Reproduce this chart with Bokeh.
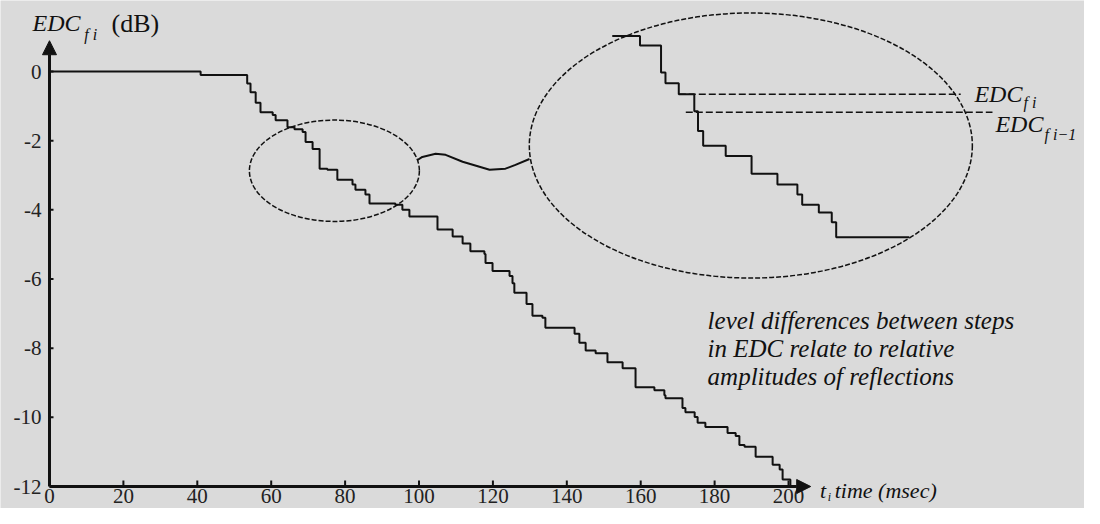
from bokeh.plotting import figure
from bokeh.models import Label, Arrow, NormalHead, Range1d
from bokeh.core.properties import value
from bokeh.embed import file_html
from bokeh.resources import INLINE

# ---- data ----
edc_time_ms = [0, 40.9, 53.5, 54.4, 55.8, 57.1, 60.4, 61.2, 64.4, 66.3, 68.5, 69.3, 71.2,
               73.1, 75.2, 77.9, 82.0, 82.8, 85.5, 86.6, 93.6, 95.5, 97.4, 105.0, 109.1,
               111.8, 113.9, 117.7, 118.0, 119.9, 124.5, 125.3, 125.8, 129.1, 130.7, 133.4,
               134.2, 142.1, 143.4, 145.1, 147.8, 151.0, 155.1, 158.6, 163.7, 166.4, 166.7,
               171.3, 172.1, 174.6, 175.4, 177.5, 183.5, 185.7, 186.7, 188.1, 191.1, 195.7,
               197.6, 198.4, 200.5]
edc_level_db = [0, -0.10, -0.35, -0.60, -0.90, -1.18, -1.26, -1.41, -1.61, -1.67, -1.75, -2.04,
                -2.24, -2.81, -2.84, -3.13, -3.27, -3.42, -3.56, -3.82, -3.85, -4.00, -4.19,
                -4.57, -4.77, -4.97, -5.20, -5.28, -5.54, -5.77, -5.91, -6.12, -6.40, -6.72,
                -7.06, -7.12, -7.41, -7.58, -7.84, -8.07, -8.15, -8.41, -8.58, -9.13, -9.22,
                -9.36, -9.45, -9.73, -9.85, -9.99, -10.16, -10.28, -10.45, -10.54, -10.80,
                -10.85, -11.14, -11.37, -11.51, -11.80, -12.0]

# magnified detail of the curve (drawn inside the large ellipse)
detail_time = [152.3, 159.8, 165.5, 166.7, 170.3, 174.5, 175.5, 176.9, 183.0, 190.0, 197.0,
               202.4, 203.7, 208.2, 211.7, 212.9, 232.7]
detail_level = [1.03, 0.75, -0.03, -0.34, -0.66, -1.15, -1.72, -2.15, -2.44, -2.96, -3.27,
                -3.56, -3.85, -4.08, -4.36, -4.79, -4.79]

# connector between the two ellipses
link_time = [99.6, 100.9, 104.5, 107.2, 111.8, 119.1, 123.4, 126.1, 129.9]
link_level = [-2.56, -2.47, -2.38, -2.41, -2.61, -2.84, -2.81, -2.70, -2.53]

# reference levels EDC_fi and EDC_fi-1 (level, start time, end time)
ref_level_fi = [-0.66, 170.3, 246.6]
ref_level_fi1 = [-1.18, 172.2, 255.2]

x_ticks = [0, 20, 40, 60, 80, 100, 120, 140, 160, 180, 200]
x_tick_labels = ["0", "20", "40", "60", "80", "100", "120", "140", "160", "180", "200"]
y_ticks = [-12, -10, -8, -6, -4, -2, 0]
y_tick_labels = ["-12", "-10", "-8", "-6", "-4", "-2", "0"]

BG = "#dadada"
INK = "#111111"
FONT = "'Liberation Serif', 'Times New Roman', serif"

p = figure(width=1084, height=508, output_backend="svg", toolbar_location=None,
           x_range=Range1d(-13.26, 280.1), y_range=Range1d(-12.636, 2.053),
           min_border_left=0, min_border_right=0, min_border_top=0, min_border_bottom=0,
           background_fill_color=BG, border_fill_color=BG, outline_line_color=None)
p.grid.visible = False
p.axis.visible = False

# axes with arrow heads
p.add_layout(Arrow(x_start=0, y_start=-12, x_end=206, y_end=-12, line_width=3, line_color=INK,
                   end=NormalHead(size=14, fill_color=INK, line_color=INK)))
p.add_layout(Arrow(x_start=0, y_start=-12, x_end=0, y_end=0.89, line_width=3, line_color=INK,
                   end=NormalHead(size=14, fill_color=INK, line_color=INK)))

# ticks (pointing into the plot) and tick labels
p.ray(x=x_ticks[1:], y=[-12] * (len(x_ticks) - 1), length=6, length_units="screen",
      angle=90, angle_units="deg", line_width=2, line_color=INK)
p.ray(x=[0] * len(y_ticks), y=y_ticks, length=4, length_units="screen",
      angle=0, angle_units="deg", line_width=2, line_color=INK)
p.text(x=x_ticks, y=[-12] * len(x_ticks), text=x_tick_labels, text_align="center",
       text_baseline="top", y_offset=2, text_font=value(FONT), text_font_size="21px",
       text_color="#222222")
p.text(x=[0] * len(y_ticks), y=y_ticks, text=y_tick_labels, text_align="right",
       text_baseline="middle", x_offset=-8, text_font=value(FONT), text_font_size="21px",
       text_color="#222222")

# main EDC curve
p.step(edc_time_ms, edc_level_db, mode="after", line_width=2, line_color=INK)

# ellipses and connector
p.ellipse(x=[77.1], y=[-2.87], width=[46.0], height=[2.93], fill_color=None,
          line_color=INK, line_width=1.5, line_dash="5 2")
p.ellipse(x=[189.8], y=[-2.14], width=[119.9], height=[7.67], fill_color=None,
          line_color=INK, line_width=1.5, line_dash="5 2")
p.line(link_time, link_level, line_width=2, line_color=INK)

# magnified steps
p.step(detail_time, detail_level, mode="after", line_width=2, line_color=INK)

# dashed reference levels
p.line(ref_level_fi[1:], [ref_level_fi[0]] * 2, line_dash="7 3", line_width=1.5, line_color=INK)
p.line(ref_level_fi1[1:], [ref_level_fi1[0]] * 2, line_dash="7 3", line_width=1.5, line_color=INK)


def lab(x, y, text, size, style="italic"):
    p.add_layout(Label(x=x, y=y, text=text, text_font=FONT, text_font_style=style,
                       text_font_size=size, text_color=INK, text_baseline="alphabetic"))


# y-axis title
lab(-4.6, 1.40, "EDC", "24px")
lab(9.4, 1.06, "f i", "16px")
lab(16.8, 1.40, "(dB)", "26px", "normal")

# EDC level labels
lab(250.3, -0.66, "EDC", "24px")
lab(263.6, -0.91, "f i", "16px")
lab(256.0, -1.52, "EDC", "24px")
lab(269.3, -1.81, "f i\u22121", "16px")

# explanatory note
lab(178.1, -7.19, "level differences between steps", "25px")
lab(178.1, -8.00, "in EDC relate to relative", "25px")
lab(178.1, -8.81, "amplitudes of reflections", "25px")

# x-axis title
lab(208.5, -12.12, "t", "22px")
lab(210.6, -12.30, "i", "12px")
lab(212.5, -12.12, "time (msec)", "22px")

open("out.html", "w").write(file_html(p, INLINE))
